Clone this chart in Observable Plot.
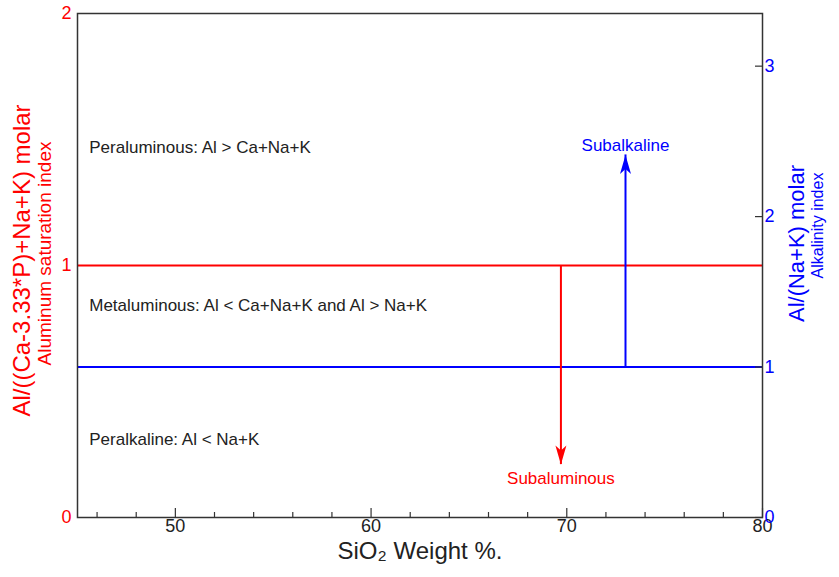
<!DOCTYPE html>
<html>
<head>
<meta charset="utf-8">
<script src="https://cdn.jsdelivr.net/npm/d3@7"></script>
<script src="https://cdn.jsdelivr.net/npm/@observablehq/plot@0.6"></script>
<style>
  html, body { margin: 0; padding: 0; background: #fff; }
  #chart svg { font-family: "Liberation Sans", Arial, Helvetica, sans-serif; display: block; }
</style>
</head>
<body>
<div id="chart"></div>
<script>
// ---- data ----
const xDomain = [45, 80];
const leftDomain = [0, 2];
const rightMax = 3.35;
const xMajorTicks = [50, 60, 70, 80];
const xMinorTicks = [46, 48, 52, 54, 56, 58, 62, 64, 66, 68, 72, 74, 76, 78];
const leftTicks = [0, 1, 2];
const rightTicks = [0, 1, 2, 3];
const aluminumBoundary = [1];      // left-axis value (A/CNK = 1)
const alkalinityBoundary = [1];    // right-axis value (A/NK = 1)
const subaluminousArrow = [{x: 69.7, from: 1, to: 0.21, label: "Subaluminous"}];   // left axis
const subalkalineArrow = [{x: 73.0, from: 1, to: 2.41, label: "Subalkaline"}];     // right axis
const regionLabels = [
  {text: "Peraluminous: Al > Ca+Na+K", x: 45.6, y: 1.47},
  {text: "Metaluminous: Al < Ca+Na+K and Al > Na+K", x: 45.6, y: 0.84},
  {text: "Peralkaline: Al < Na+K", x: 45.6, y: 0.31}
];
const xTitle = "SiO\u2082 Weight %.";
const leftTitle = "Al/((Ca-3.33*P)+Na+K) molar";
const leftSubtitle = "Aluminum saturation index";
const rightTitle = "Al/(Na+K) molar";
const rightSubtitle = "Alkalinity index";

// ---- helpers ----
const toLeft = r => r * (leftDomain[1] / rightMax);
const fromLeft = l => l * (rightMax / leftDomain[1]);
const RED = "#ff0000", BLUE = "#0000ff", INK = "#333";
const stealth = {
  draw(ctx) {
    ctx.moveTo(0, 0);
    ctx.lineTo(5.5, 19);
    ctx.lineTo(0, 14);
    ctx.lineTo(-5.5, 19);
    ctx.closePath();
  }
};

const chart = Plot.plot({
  width: 839,
  height: 577,
  marginLeft: 77,
  marginRight: 77,
  marginTop: 13,
  marginBottom: 60,
  x: {domain: xDomain},
  y: {domain: leftDomain},
  style: {fontFamily: "'Liberation Sans', Arial, sans-serif", background: "#fff"},
  marks: [
    // boundary lines
    Plot.ruleY(aluminumBoundary, {y: d => d, stroke: RED, strokeWidth: 2}),
    Plot.ruleY(alkalinityBoundary, {y: d => toLeft(d), stroke: BLUE, strokeWidth: 2}),
    // arrows
    Plot.ruleX(subaluminousArrow, {x: "x", y1: "from", y2: "to", stroke: RED, strokeWidth: 2}),
    Plot.dot(subaluminousArrow, {x: "x", y: "to", symbol: stealth, fill: RED, stroke: null, rotate: 180}),
    Plot.text(subaluminousArrow, {x: "x", y: "to", text: "label", dy: 14, fill: RED, fontSize: 17, lineAnchor: "middle"}),
    Plot.ruleX(subalkalineArrow, {x: "x", y1: d => toLeft(d.from), y2: d => toLeft(d.to), stroke: BLUE, strokeWidth: 2}),
    Plot.dot(subalkalineArrow, {x: "x", y: d => toLeft(d.to), symbol: stealth, fill: BLUE, stroke: null}),
    Plot.text(subalkalineArrow, {x: "x", y: d => toLeft(d.to), text: "label", dy: -9, fill: BLUE, fontSize: 17, lineAnchor: "middle"}),
    // region labels
    Plot.text(regionLabels, {x: "x", y: "y", text: "text", textAnchor: "start", lineAnchor: "middle", fill: "#222", fontSize: 17}),
    // bottom axis: ticks inward, labels outside
    Plot.axisX({ticks: xMajorTicks, tickSize: -9, tickFormat: () => "", stroke: INK, strokeWidth: 1.2, label: null}),
    Plot.axisX({ticks: xMinorTicks, tickSize: -5, tickFormat: () => "", stroke: INK, strokeWidth: 1.2, label: null}),
    Plot.axisX({ticks: xMajorTicks, tickSize: 0, tickPadding: 2, fill: "#222", fontSize: 18, label: null}),
    // left axis labels
    Plot.axisY({anchor: "left", ticks: leftTicks, tickSize: 0, tickPadding: 6, tickFormat: d => String(d), fill: RED, fontSize: 18, label: null}),
    // right axis
    Plot.axisY({anchor: "right", ticks: rightTicks.map(toLeft), tickSize: -8, tickFormat: () => "", stroke: INK, strokeWidth: 1.2, label: null}),
    Plot.axisY({anchor: "right", ticks: rightTicks.map(toLeft), tickSize: 0, tickPadding: 2, tickFormat: d => String(Math.round(fromLeft(d))), fill: BLUE, fontSize: 18, label: null}),
    // frame
    Plot.frame({stroke: INK, strokeWidth: 1.5}),
    // titles
    Plot.text([xTitle], {frameAnchor: "bottom", text: d => d, dy: 34, fontSize: 24, fill: "#222", textAnchor: "middle", lineAnchor: "middle"}),
    Plot.text([leftTitle], {frameAnchor: "left", text: d => d, dx: -55, dy: -5, rotate: -90, fontSize: 24, fill: RED, textAnchor: "middle", lineAnchor: "middle"}),
    Plot.text([leftSubtitle], {frameAnchor: "left", text: d => d, dx: -33, dy: -12, rotate: -90, fontSize: 19, fill: RED, textAnchor: "middle", lineAnchor: "middle"}),
    Plot.text([rightTitle], {frameAnchor: "right", text: d => d, dx: 34, dy: -22, rotate: -90, fontSize: 22, fill: BLUE, textAnchor: "middle", lineAnchor: "middle"}),
    Plot.text([rightSubtitle], {frameAnchor: "right", text: d => d, dx: 55, dy: -40, rotate: -90, fontSize: 16, fill: BLUE, textAnchor: "middle", lineAnchor: "middle"})
  ]
});
document.getElementById("chart").appendChild(chart);
</script>
</body>
</html>
